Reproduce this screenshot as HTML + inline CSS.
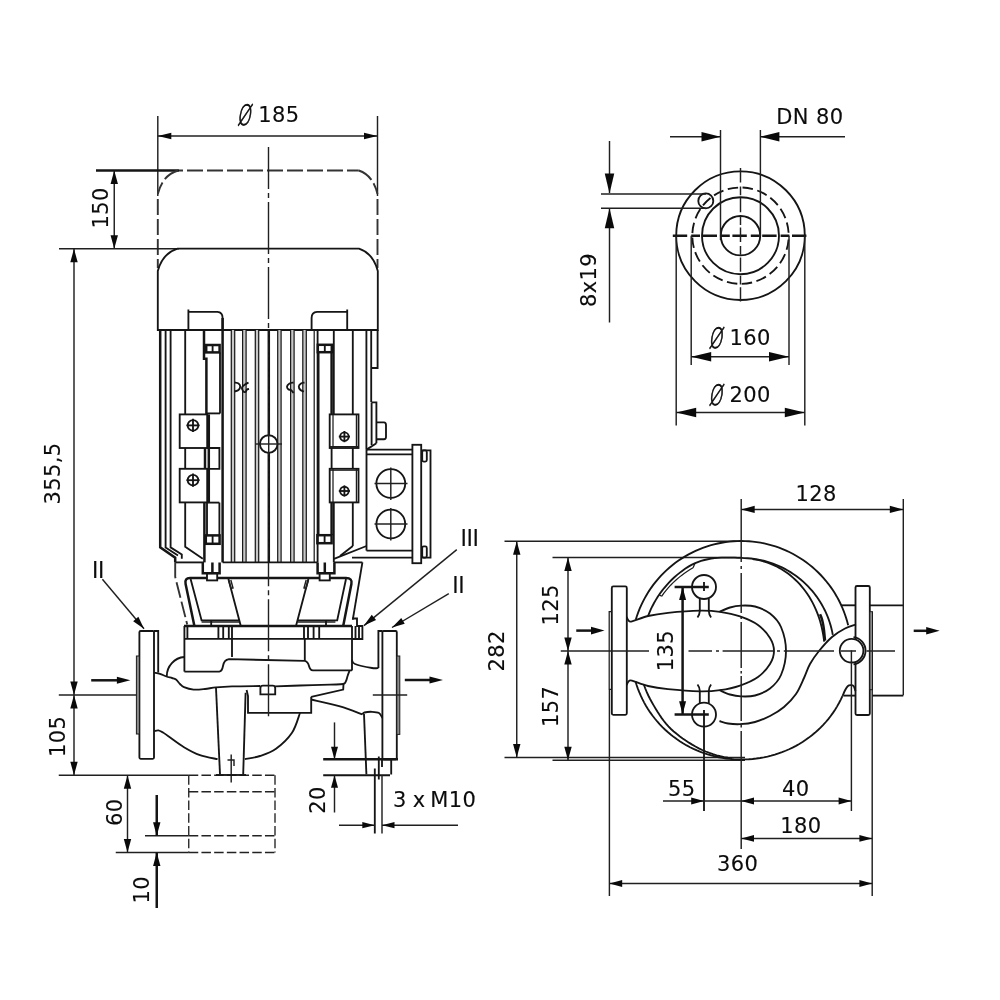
<!DOCTYPE html>
<html lang="en">
<head>
<meta charset="utf-8">
<title>Inline pump dimension drawing</title>
<style>
html,body{margin:0;padding:0;background:#fff;}
body{width:1000px;height:1000px;overflow:hidden;}
svg{display:block;will-change:transform;}
.o{stroke:#151515;stroke-width:1.85;fill:none;}
.k{stroke:#151515;stroke-width:2.5;fill:none;}
.t{stroke:#202020;stroke-width:1.45;fill:none;}
.h{stroke:#333;stroke-width:1.9;fill:none;stroke-dasharray:16 4;}
.c{stroke:#202020;stroke-width:1.4;fill:none;stroke-dasharray:52 4 5 4;}
.f{stroke:#222;stroke-width:1.35;fill:none;stroke-dasharray:9.5 3.2;}
.g{stroke:#c8c8c8;fill:none;}
.n{stroke:#1c1c1c;stroke-width:1.25;fill:none;}
.a{fill:#0a0a0a;stroke:none;}
.w{fill:#fff;}
.rf{fill:#8c8c8c;stroke:#1c1c1c;stroke-width:1;}
text{font-family:"DejaVu Sans","Liberation Sans",sans-serif;font-size:21px;letter-spacing:0.4px;fill:#0c0c0c;stroke:#0c0c0c;stroke-width:0.12px;}
.ro{font-family:"Liberation Sans","DejaVu Sans",sans-serif;font-size:23px;letter-spacing:-0.4px;stroke-width:0.1px;}
.dia{font-family:"DejaVu Sans Light","DejaVu Sans","Liberation Sans",sans-serif;font-size:28px;letter-spacing:0;stroke-width:0.9px;}
</style>
</head>
<body>
<svg width="1000" height="1000" viewBox="0 0 1000 1000" role="img" aria-label="Dimension drawing of an inline pump">
<rect x="0" y="0" width="1000" height="1000" fill="#ffffff"/>
<g id="front-view">
<line class="t" x1="157.8" y1="116" x2="157.8" y2="196"/>
<line class="t" x1="377.5" y1="116" x2="377.5" y2="196"/>
<line class="t" x1="157.8" y1="136" x2="377.5" y2="136"/>
<polygon class="a" points="157.8,136 171.3,132.75 171.3,139.25"/>
<polygon class="a" points="377.5,136 364,139.25 364,132.75"/>
<text class="dia" transform="translate(237.1 124.5) scale(0.62 1) skewX(-14)" x="0" y="0">Ø</text>
<text x="258.15" y="122" text-anchor="start">185</text>
<line class="k" x1="96" y1="170.5" x2="179" y2="170.5"/>
<path class="h" d="M179,170.5 L358.8,170.5" stroke-dashoffset="12"/>
<path class="h" d="M178,170.5 Q162.5,175.2 157.8,194" stroke-dasharray="7 3"/>
<path class="h" d="M358.8,170.5 Q373,175.2 377.5,194" stroke-dasharray="7 3"/>
<line class="h" x1="157.8" y1="199" x2="157.8" y2="268" stroke-dasharray="22 5 17 9 15 5"/>
<line class="h" x1="377.5" y1="199" x2="377.5" y2="268" stroke-dasharray="22 10 22 5"/>
<line class="t" x1="114.25" y1="170.5" x2="114.25" y2="248.8"/>
<polygon class="a" points="114.25,170.5 117.95,184 110.55,184"/>
<polygon class="a" points="114.25,248.8 110.55,235.3 117.95,235.3"/>
<text x="108.25" y="228.62" text-anchor="start" transform="rotate(-90 108.25 228.62)">150</text>
<line class="t" x1="59" y1="248.8" x2="179" y2="248.8"/>
<line class="t" x1="74" y1="248.8" x2="74" y2="775.2"/>
<polygon class="a" points="74,248.8 77.7,262.3 70.3,262.3"/>
<polygon class="a" points="74,694.9 70.3,681.4 77.7,681.4"/>
<polygon class="a" points="74,694.9 77.7,708.4 70.3,708.4"/>
<polygon class="a" points="74,775.2 70.3,761.7 77.7,761.7"/>
<line class="t" x1="58.8" y1="694.9" x2="136.8" y2="694.9"/>
<text x="60.3" y="504.5" text-anchor="start" transform="rotate(-90 60.3 504.5)">355,5</text>
<text x="65.5" y="757.1" text-anchor="start" transform="rotate(-90 65.5 757.1)">105</text>
<path class="o" d="M157.8,330 L157.8,271 Q162.5,253.3 177.5,248.6 L359,248.6 Q373.2,253.3 377.8,271 L377.8,330 Z"/>
<path class="o" d="M188.4,309.5 L188.4,330 M188.4,311.8 L217.4,311.8 Q222.6,312 222.6,318 L222.6,330"/>
<path class="o" d="M347.2,309.5 L347.2,330 M347.2,311.8 L317,311.8 Q311.6,312 311.6,318 L311.6,330"/>
<path class="k" d="M160.2,330 L160.2,547.4 L175.2,557.6 L175.2,562.4"/>
<path class="o" d="M165.6,330 L165.6,547.4 L178,555.5"/>
<path class="o" d="M170.6,330 L170.6,547.4 L181.8,554.5 L181.8,558.8"/>
<path class="o" d="M185.2,330 L185.2,414.4 M185.2,448 L185.2,468.8 M185.2,502.4 L185.2,546.8 L202.8,558.8"/>
<path class="k" d="M204,330 L204,358.8 L206.4,358.8 L206.4,414.4"/>
<rect class="k" x="206.2" y="345" width="13.4" height="7.4"/>
<line class="o" x1="212.6" y1="345" x2="212.6" y2="352.4"/>
<line class="o" x1="220" y1="352.4" x2="220" y2="413.6"/>
<line class="o" x1="206.4" y1="413.4" x2="220" y2="413.4"/>
<line class="k" x1="222.6" y1="318" x2="222.6" y2="562.4"/>
<line class="k" x1="204.4" y1="502.4" x2="204.4" y2="562.4"/>
<line class="o" x1="207" y1="502.4" x2="207" y2="535.4"/>
<line class="o" x1="219.4" y1="502.6" x2="219.4" y2="535.4"/>
<line class="o" x1="208" y1="502.6" x2="219.4" y2="502.6"/>
<rect class="k" x="205.8" y="535.4" width="13.8" height="8.4"/>
<line class="o" x1="212.6" y1="535.4" x2="212.6" y2="543.8"/>
<line class="g" x1="233" y1="330" x2="233" y2="562.4" stroke-width="3.4"/>
<line class="n" x1="231.3" y1="330" x2="231.3" y2="562.4"/>
<line class="n" x1="234.7" y1="330" x2="234.7" y2="562.4"/>
<line class="g" x1="244.35" y1="330" x2="244.35" y2="562.4" stroke-width="3.5"/>
<line class="n" x1="242.6" y1="330" x2="242.6" y2="562.4"/>
<line class="n" x1="246.1" y1="330" x2="246.1" y2="562.4"/>
<line class="g" x1="257" y1="330" x2="257" y2="562.4" stroke-width="3.4"/>
<line class="n" x1="255.3" y1="330" x2="255.3" y2="562.4"/>
<line class="n" x1="258.7" y1="330" x2="258.7" y2="562.4"/>
<line class="g" x1="279.4" y1="330" x2="279.4" y2="562.4" stroke-width="3.4"/>
<line class="n" x1="277.7" y1="330" x2="277.7" y2="562.4"/>
<line class="n" x1="281.1" y1="330" x2="281.1" y2="562.4"/>
<line class="g" x1="292.35" y1="330" x2="292.35" y2="562.4" stroke-width="3.5"/>
<line class="n" x1="290.6" y1="330" x2="290.6" y2="562.4"/>
<line class="n" x1="294.1" y1="330" x2="294.1" y2="562.4"/>
<line class="g" x1="304.55" y1="330" x2="304.55" y2="562.4" stroke-width="3.5"/>
<line class="n" x1="302.8" y1="330" x2="302.8" y2="562.4"/>
<line class="n" x1="306.3" y1="330" x2="306.3" y2="562.4"/>
<line class="k" x1="268.8" y1="330" x2="268.8" y2="435" stroke-width="3"/>
<line class="k" x1="268.8" y1="453" x2="268.8" y2="562.4" stroke-width="3"/>
<line class="n" x1="268.8" y1="330" x2="268.8" y2="562.4" stroke="#ddd" stroke-width="0.9" stroke-dasharray="9 3 2 3" stroke-dashoffset="4"/>
<line class="n" x1="314.2" y1="330" x2="314.2" y2="562.4"/>
<line class="o" x1="317.6" y1="330" x2="317.6" y2="562.4"/>
<rect class="k" x="317.8" y="344.8" width="14" height="7.4"/>
<line class="o" x1="324.8" y1="344.8" x2="324.8" y2="352.2"/>
<line class="o" x1="318.6" y1="352.2" x2="318.6" y2="535.2"/>
<line class="k" x1="331.6" y1="352.2" x2="331.6" y2="414.4"/>
<line class="k" x1="331.6" y1="502.4" x2="331.6" y2="535.2"/>
<line class="o" x1="333.8" y1="330" x2="333.8" y2="414.4"/>
<line class="o" x1="333.8" y1="502.4" x2="333.8" y2="562.4"/>
<rect class="k" x="317.4" y="535.2" width="14.2" height="8"/>
<line class="o" x1="324.6" y1="535.2" x2="324.6" y2="543.2"/>
<line class="o" x1="352.8" y1="330" x2="352.8" y2="414.4"/>
<line class="o" x1="352.8" y1="448" x2="352.8" y2="468.8"/>
<line class="o" x1="352.8" y1="502.4" x2="352.8" y2="546"/>
<line class="o" x1="366.4" y1="330" x2="366.4" y2="449.6"/>
<line class="o" x1="371.2" y1="330" x2="371.2" y2="402"/>
<path class="o" d="M377.6,330 L377.6,368 L371.2,368"/>
<path class="o" d="M234.6,382.5 C235.25,382.67 237.57,382.83 238.5,383.5 C239.43,384.17 240.2,385.42 240.2,386.5 C240.2,387.58 239.43,389.17 238.5,390 C237.57,390.83 235.25,391.25 234.6,391.5"/>
<path class="o" d="M248.5,382.5 C247.92,382.83 246.08,383.67 245,384.5 C243.92,385.33 242.33,386.42 242,387.5 C241.67,388.58 242.42,390.25 243,391 C243.58,391.75 244.83,392.25 245.5,392 C246.17,391.75 246.42,390 247,389.5 C247.58,389 248.67,389.08 249,389"/>
<path class="o" d="M293.6,382.5 C292.92,382.67 290.6,382.83 289.5,383.5 C288.4,384.17 287.17,385.5 287,386.5 C286.83,387.5 287.83,388.92 288.5,389.5 C289.17,390.08 290.15,389.42 291,390 C291.85,390.58 293.17,392.5 293.6,393"/>
<path class="o" d="M304.5,382.5 C303.92,382.67 301.95,382.83 301,383.5 C300.05,384.17 298.88,385.42 298.8,386.5 C298.72,387.58 299.63,389.17 300.5,390 C301.37,390.83 303.42,391.25 304,391.5"/>
<rect class="o" x="179.7" y="414.4" width="27.5" height="33.6"/>
<rect class="o" x="179.7" y="468.8" width="27.5" height="33.6"/>
<line class="k" x1="208.8" y1="414.4" x2="208.8" y2="502.4"/>
<path class="o" d="M207.2,448 L219.4,448 L219.4,468.8 L207.2,468.8"/>
<line class="k" x1="205" y1="448" x2="205" y2="468.8"/>
<rect class="o" x="329.7" y="414.4" width="28.8" height="33.6"/>
<rect class="o" x="329.7" y="468.8" width="28.8" height="33.6"/>
<line class="n" x1="333" y1="414.4" x2="333" y2="448"/>
<line class="n" x1="333" y1="468.8" x2="333" y2="502.4"/>
<line class="n" x1="356.4" y1="414.4" x2="356.4" y2="448"/>
<line class="n" x1="356.4" y1="468.8" x2="356.4" y2="502.4"/>
<line class="n" x1="329.7" y1="446.6" x2="358.5" y2="446.6"/>
<line class="n" x1="329.7" y1="470.2" x2="358.5" y2="470.2"/>
<line class="o" x1="331.6" y1="448" x2="331.6" y2="468.8"/>
<circle class="o" cx="193" cy="425.4" r="5.3"/>
<line class="o" x1="186.4" y1="425.4" x2="199.6" y2="425.4"/>
<line class="o" x1="193" y1="418.8" x2="193" y2="432"/>
<circle class="o" cx="193" cy="480.2" r="5.3"/>
<line class="o" x1="186.4" y1="480.2" x2="199.6" y2="480.2"/>
<line class="o" x1="193" y1="473.6" x2="193" y2="486.8"/>
<circle class="o" cx="344.4" cy="436.6" r="4.3"/>
<line class="o" x1="338.8" y1="436.6" x2="350" y2="436.6"/>
<line class="o" x1="344.4" y1="431" x2="344.4" y2="442.2"/>
<circle class="o" cx="344.4" cy="491" r="4.3"/>
<line class="o" x1="338.8" y1="491" x2="350" y2="491"/>
<line class="o" x1="344.4" y1="485.4" x2="344.4" y2="496.6"/>
<circle class="o w" cx="268.7" cy="444" r="8.8"/>
<line class="t" x1="255.5" y1="444" x2="282" y2="444"/>
<line class="t" x1="268.7" y1="433" x2="268.7" y2="455"/>
<path class="o" d="M371.6,402.4 L376.4,402.4 L376.4,443.2"/>
<line class="o" x1="371.6" y1="402.4" x2="371.6" y2="445"/>
<path class="o" d="M376.4,422.4 L384,422.4 Q386,422.4 386,425 L386,437 Q386,439.2 384,439.2 L376.4,439.2"/>
<path class="o" d="M376.4,443.2 L366.5,449.6"/>
<line class="o" x1="366.5" y1="449.6" x2="412.4" y2="449.6"/>
<line class="o" x1="366.5" y1="454.4" x2="412.4" y2="454.4"/>
<line class="o" x1="366.5" y1="449.6" x2="366.5" y2="550.6"/>
<rect class="o" x="412.4" y="444.8" width="8.8" height="118.4"/>
<path class="o" d="M421.2,450.4 L430.5,450.4 L430.5,557.6 L421.2,557.6"/>
<rect class="o" x="422.2" y="450.4" width="4.6" height="11.2" rx="1.5"/>
<rect class="o" x="422.2" y="546.4" width="4.6" height="11.2" rx="1.5"/>
<circle class="o" cx="390.8" cy="483.5" r="14.4"/>
<line class="t" x1="374.5" y1="483.5" x2="407.5" y2="483.5"/>
<line class="t" x1="390.8" y1="467.5" x2="390.8" y2="500"/>
<circle class="o" cx="390.8" cy="524" r="14.4"/>
<line class="t" x1="374.5" y1="524" x2="407.5" y2="524"/>
<line class="t" x1="390.8" y1="508" x2="390.8" y2="540.5"/>
<line class="o" x1="366.5" y1="550.6" x2="412.4" y2="550.6"/>
<line class="o" x1="352" y1="557.6" x2="412.4" y2="557.6"/>
<path class="o" d="M366.5,546 L334,558.8"/>
<path class="o" d="M352.8,546 L340,556"/>
<line class="o" x1="175.2" y1="562.4" x2="204" y2="562.4"/>
<line class="o" x1="222.6" y1="562.4" x2="317.6" y2="562.4"/>
<line class="o" x1="333.8" y1="562.4" x2="362.4" y2="562.4"/>
<path class="k" d="M202.8,562.4 L202.8,573.2 L219.6,573.2 L219.6,562.4 M212.4,562.4 L212.4,573.2"/>
<rect class="o" x="207" y="573.2" width="10.2" height="7.2"/>
<path class="k" d="M317.6,562.4 L317.6,573.2 L334.4,573.2 L334.4,562.4 M324.8,562.4 L324.8,573.2"/>
<rect class="o" x="319.6" y="573.2" width="10.2" height="7.2"/>
<path class="h" d="M175.2,562.4 L175.2,577 L187.2,624.4" stroke-dasharray="13 5"/>
<path class="o" d="M362.4,562.4 L352.8,619.6"/>
<path class="k" d="M207,578 L190,578 Q184.4,578 185.6,584 L194.4,626"/>
<path class="k" d="M217.2,578 L319.6,578"/>
<path class="k" d="M329.8,578 L346,578 Q352.6,578 351.4,584 L343.2,626"/>
<path class="o" d="M190.6,579 L201.6,620.4 L239.2,620.4 M228.4,579 L240.8,626"/>
<path class="o" d="M346,579 L337.2,620.4 L297.8,620.4 M308.4,579 L296,626"/>
<path class="t" d="M201.6,622 L239.2,622"/>
<path class="t" d="M297.8,622 L335.4,622"/>
<line class="o" x1="211.2" y1="620.4" x2="211.2" y2="626"/>
<line class="o" x1="326" y1="620.4" x2="326" y2="626"/>
<path class="t" d="M228.6,580 L231,588.5 L233,588 L230.8,580"/>
<path class="t" d="M308.4,580 L306,588.5 L304,588 L306.2,580"/>
<line class="k" x1="184" y1="626" x2="352" y2="626"/>
<line class="o" x1="184.8" y1="638.8" x2="352" y2="638.8"/>
<line class="o" x1="184.4" y1="626" x2="184.4" y2="671.6"/>
<line class="o" x1="187.4" y1="626" x2="187.4" y2="638.8"/>
<line class="o" x1="218.4" y1="626" x2="218.4" y2="638.8"/>
<line class="o" x1="223.2" y1="626" x2="223.2" y2="638.8"/>
<line class="o" x1="228.8" y1="626" x2="228.8" y2="638.8"/>
<line class="o" x1="232" y1="626" x2="232" y2="638.8"/>
<line class="o" x1="304" y1="626" x2="304" y2="638.8"/>
<line class="o" x1="308" y1="626" x2="308" y2="638.8"/>
<line class="o" x1="313.6" y1="626" x2="313.6" y2="638.8"/>
<line class="o" x1="319.2" y1="626" x2="319.2" y2="638.8"/>
<path class="o" d="M352,618.5 L357,618.5 L357,626 L362.4,626 L362.4,639 L352,639"/>
<line class="o" x1="352" y1="626" x2="352" y2="670.4"/>
<line class="o" x1="355.5" y1="626" x2="355.5" y2="639"/>
<line class="o" x1="359" y1="626" x2="359" y2="639"/>
<path class="o" d="M184.4,671.6 L219.2,671.6 Q222,671.4 223,666 Q224,660 229,659.2 L304.8,660.8 Q308,661.5 309,666 Q310,670.2 313,670.4 L352,670.4"/>
<line class="o" x1="232" y1="638.8" x2="232" y2="657"/>
<line class="o" x1="304.8" y1="638.8" x2="304.8" y2="660.8"/>
<rect class="o" x="139.4" y="631" width="14.6" height="127.8" rx="1.2"/>
<rect class="rf" x="136.4" y="656" width="3" height="78"/>
<path class="o" d="M154,631 L158.2,631 L158.2,672.6"/>
<rect class="o" x="382.4" y="631" width="14.4" height="128.2" rx="1.2"/>
<rect class="rf" x="396.8" y="656" width="3" height="78.4"/>
<path class="o" d="M382.4,631 L378.4,631 L378.4,668"/>
<path class="o" d="M154.4,672.8 C155.33,672.97 158,673.18 160,673.8 C162,674.42 164.4,675.8 166.4,676.5 C168.4,677.2 170.4,677.5 172,678 C173.6,678.5 174.67,678.5 176,679.5 C177.33,680.5 178.67,682.72 180,684 C181.33,685.28 181.73,686.27 184,687.2 C186.27,688.13 190.1,689.3 193.6,689.6 C197.1,689.9 201.27,689.37 205,689 C208.73,688.63 211.5,687.83 216,687.4 C220.5,686.97 224.67,686.63 232,686.4 C239.33,686.17 255.33,686.07 260,686"/>
<path class="o" d="M166.8,676 A19,19 0 0 1 184.4,657"/>
<path class="o" d="M154.4,731.2 C155.07,731.07 156.97,730.18 158.4,730.4 C159.83,730.62 161.4,731.57 163,732.5 C164.6,733.43 164.5,733.55 168,736 C171.5,738.45 178.67,744 184,747.2 C189.33,750.4 194.4,753.2 200,755.2 C205.6,757.2 214.67,758.53 217.6,759.2"/>
<path class="o" d="M244.8,759.2 C247.33,758.67 254.8,757.73 260,756 C265.2,754.27 270.67,752.67 276,748.8 C281.33,744.93 288,738.77 292,732.8 C296,726.83 298.67,716.3 300,713"/>
<path class="o" d="M260.4,694.4 L260.4,688 Q260.4,685.6 263,685.6 L272.6,685.6 Q275.2,685.6 275.2,688 L275.2,694.4 Z"/>
<path class="o" d="M246.6,690 L248,696 L248,712.8 L311.2,712.8 L311.2,696.8"/>
<path class="o" d="M275.2,686.4 C279.33,686.25 290.87,685.8 300,685.5 C309.13,685.2 322.8,684.85 330,684.6 C337.2,684.35 340.53,684.6 343.2,684 C345.87,683.4 345.27,682.33 346,681 C346.73,679.67 347,677.77 347.6,676 C348.2,674.23 349.27,671.33 349.6,670.4"/>
<path class="o" d="M311.2,696.8 L343.2,689.6 L343.5,684"/>
<path class="o" d="M311.2,699.5 C316,700.65 331.47,703.92 340,706.4 C348.53,708.88 358.67,713.07 362.4,714.4"/>
<path class="o" d="M352,660 C352.5,660.67 351.67,662.67 355,664 C358.33,665.33 368.1,667.33 372,668 C375.9,668.67 377.33,668 378.4,668"/>
<path class="o" d="M362.4,714.4 C362.75,714.08 362.9,712.93 364.5,712.5 C366.1,712.07 369.58,711.72 372,711.8 C374.42,711.88 377.27,711.97 379,713 C380.73,714.03 381.83,717.17 382.4,718"/>
<path class="o" d="M216,688 L220,774.4"/>
<path class="o" d="M245.6,692.8 L243.2,774.4"/>
<path class="o" d="M364,714 L366.4,774.4"/>
<path class="o" d="M382.4,759.2 L391.2,759.2 L391.2,774.4"/>
<line class="t" x1="231.2" y1="754.4" x2="231.2" y2="782.4"/>
<path class="t" d="M227.5,760 L234,760 L234,766"/>
<line class="c" x1="268.5" y1="147" x2="268.5" y2="330" stroke-dasharray="34 5.8 4 5.85" stroke-dashoffset="10"/>
<line class="c" x1="268.5" y1="562.4" x2="268.5" y2="717" stroke-dasharray="34 5.8 4 5.85" stroke-dashoffset="28.2"/>
<line class="t" x1="372.8" y1="694.9" x2="407.2" y2="694.9"/>
<line class="k" x1="91.2" y1="680.3" x2="120" y2="680.3"/>
<polygon class="a" points="130.4,680.3 116.9,683.8 116.9,676.8"/>
<line class="k" x1="404.8" y1="680" x2="432" y2="680"/>
<polygon class="a" points="443,680 429.5,683.5 429.5,676.5"/>
<text x="92" y="577.6" text-anchor="start" class="ro">II</text>
<line class="t" x1="102.4" y1="579.2" x2="144" y2="628.8"/>
<polygon class="a" points="144,628.8 133.17,621.18 138.38,616.81"/>
<text x="460.6" y="546.4" text-anchor="start" class="ro">III</text>
<line class="t" x1="456.8" y1="549.6" x2="364" y2="625.6"/>
<polygon class="a" points="364,625.6 371.75,614.86 376.06,620.12"/>
<text x="452.3" y="592.8" text-anchor="start" class="ro">II</text>
<line class="t" x1="448.8" y1="593.6" x2="392" y2="627.5"/>
<polygon class="a" points="392,627.5 401.25,618.03 404.74,623.87"/>
<line class="t" x1="58.75" y1="775.2" x2="188.75" y2="775.2"/>
<line class="f" x1="188.75" y1="775.2" x2="275" y2="775.2"/>
<line class="f" x1="188.75" y1="775.2" x2="188.75" y2="852.5"/>
<line class="f" x1="275" y1="775.2" x2="275" y2="852.5"/>
<line class="f" x1="188.75" y1="791.75" x2="275" y2="791.75"/>
<line class="f" x1="188.75" y1="835.75" x2="275" y2="835.75"/>
<line class="f" x1="188.75" y1="852.5" x2="275" y2="852.5"/>
<line class="o" x1="216" y1="775" x2="246" y2="775"/>
<line class="t" x1="127.5" y1="775.2" x2="127.5" y2="852.5"/>
<polygon class="a" points="127.5,775.2 131.2,788.7 123.8,788.7"/>
<polygon class="a" points="127.5,852.5 123.8,839 131.2,839"/>
<line class="t" x1="115.75" y1="852.5" x2="188.75" y2="852.5"/>
<text x="121.5" y="826" text-anchor="start" transform="rotate(-90 121.5 826)">60</text>
<line class="t" x1="145" y1="835.75" x2="188.75" y2="835.75"/>
<line class="k" x1="156.75" y1="795" x2="156.75" y2="835.75"/>
<line class="k" x1="156.75" y1="852.5" x2="156.75" y2="908"/>
<polygon class="a" points="156.75,835.75 153.05,822.25 160.45,822.25"/>
<polygon class="a" points="156.75,852.5 160.45,866 153.05,866"/>
<text x="149.5" y="903.45" text-anchor="start" transform="rotate(-90 149.5 903.45)">10</text>
<line class="k" x1="323.2" y1="759.2" x2="398" y2="759.2"/>
<line class="o" x1="323.2" y1="775.2" x2="390" y2="775.2"/>
<line class="t" x1="334.5" y1="722.4" x2="334.5" y2="759.2"/>
<line class="t" x1="334.5" y1="775.2" x2="334.5" y2="812.5"/>
<polygon class="a" points="334.5,759.2 331,746.7 338,746.7"/>
<polygon class="a" points="334.5,775.2 338,787.7 331,787.7"/>
<text x="325.3" y="813.75" text-anchor="start" transform="rotate(-90 325.3 813.75)">20</text>
<line class="o" x1="374.8" y1="768.5" x2="374.8" y2="833.5" stroke-width="1.8"/>
<line class="o" x1="378.8" y1="756.5" x2="378.8" y2="779.5" stroke-width="1.8"/>
<line class="t" x1="382" y1="775" x2="382" y2="833.5"/>
<line class="o" x1="382" y1="759" x2="382" y2="767"/>
<line class="t" x1="339" y1="825.2" x2="374.8" y2="825.2"/>
<line class="t" x1="382" y1="825.2" x2="458" y2="825.2"/>
<polygon class="a" points="374.8,825.2 362.3,828.3 362.3,822.1"/>
<polygon class="a" points="382,825.2 394.5,822.1 394.5,828.3"/>
<text x="393" y="807.4" text-anchor="start">3 <tspan dx="-1.2">x</tspan> <tspan dx="-2.2">M10</tspan></text>
</g>
<g id="flange-view">
<circle class="o" cx="740.5" cy="235.7" r="64.3"/>
<circle class="o" cx="740.5" cy="235.7" r="38.5"/>
<circle class="o" cx="740.5" cy="235.7" r="19.7"/>
<circle class="o" cx="740.5" cy="235.7" r="48.2" stroke-dasharray="10.5 4.5" stroke-dashoffset="11.15"/>
<circle class="o" cx="705.8" cy="200.9" r="7.5"/>
<line class="k" x1="672.8" y1="235.7" x2="808.8" y2="235.7" stroke-dasharray="14.4 4 8.8 2.6"/>
<line class="t" x1="740.5" y1="168" x2="740.5" y2="303.5" stroke-dasharray="14.4 4 8.8 2.6"/>
<line class="t" x1="720.5" y1="130" x2="720.5" y2="240"/>
<line class="t" x1="760.4" y1="130" x2="760.4" y2="236"/>
<line class="t" x1="670" y1="136.75" x2="720.5" y2="136.75"/>
<line class="t" x1="760.4" y1="136.75" x2="845" y2="136.75"/>
<polygon class="a" points="720.5,136.75 701.5,141.5 701.5,132"/>
<polygon class="a" points="760.4,136.75 779.4,132 779.4,141.5"/>
<text x="776.2" y="123.5" text-anchor="start">DN 80</text>
<line class="t" x1="609.5" y1="141" x2="609.5" y2="193"/>
<line class="t" x1="609.5" y1="208" x2="609.5" y2="322.5"/>
<polygon class="a" points="609.5,193.6 604.75,173.6 614.25,173.6"/>
<polygon class="a" points="609.5,208.2 614.25,228.2 604.75,228.2"/>
<line class="t" x1="601" y1="193.9" x2="706" y2="193.9"/>
<line class="t" x1="601" y1="208.2" x2="706" y2="208.2"/>
<text x="595.5" y="307" text-anchor="start" transform="rotate(-90 595.5 307)">8x19</text>
<line class="t" x1="691.2" y1="235.7" x2="691.2" y2="365"/>
<line class="t" x1="789" y1="235.7" x2="789" y2="365"/>
<line class="t" x1="691.2" y1="356.75" x2="789" y2="356.75"/>
<polygon class="a" points="691.2,356.75 711.2,352 711.2,361.5"/>
<polygon class="a" points="789,356.75 769,361.5 769,352"/>
<text class="dia" transform="translate(708.4 347.5) scale(0.62 1) skewX(-14)" x="0" y="0">Ø</text>
<text x="729.58" y="345" text-anchor="start">160</text>
<line class="t" x1="676.2" y1="235.7" x2="676.2" y2="425.5"/>
<line class="t" x1="804.8" y1="235.7" x2="804.8" y2="425.5"/>
<line class="t" x1="676.2" y1="412.5" x2="804.8" y2="412.5"/>
<polygon class="a" points="676.2,412.5 696.2,407.75 696.2,417.25"/>
<polygon class="a" points="804.8,412.5 784.8,417.25 784.8,407.75"/>
<text class="dia" transform="translate(708.4 404.5) scale(0.62 1) skewX(-14)" x="0" y="0">Ø</text>
<text x="729.58" y="402" text-anchor="start">200</text>
</g>
<g id="plan-view">
<line class="t" x1="504.5" y1="541.25" x2="741" y2="541.25"/>
<line class="t" x1="552.5" y1="557.5" x2="741" y2="557.5"/>
<line class="t" x1="504.5" y1="757.4" x2="745" y2="757.4"/>
<line class="t" x1="552.5" y1="760.2" x2="745" y2="760.2"/>
<line class="t" x1="516.75" y1="541.25" x2="516.75" y2="757.4"/>
<polygon class="a" points="516.75,541.25 520.45,554.75 513.05,554.75"/>
<polygon class="a" points="516.75,757.4 513.05,743.9 520.45,743.9"/>
<text x="504" y="671.5" text-anchor="start" transform="rotate(-90 504 671.5)">282</text>
<line class="t" x1="568" y1="557.5" x2="568" y2="760.2"/>
<polygon class="a" points="568,557.5 571.7,571 564.3,571"/>
<polygon class="a" points="568,651 564.3,637.5 571.7,637.5"/>
<polygon class="a" points="568,651 571.7,664.5 564.3,664.5"/>
<polygon class="a" points="568,760.2 564.3,746.7 571.7,746.7"/>
<text x="557.5" y="625.5" text-anchor="start" transform="rotate(-90 557.5 625.5)">125</text>
<text x="557.5" y="727" text-anchor="start" transform="rotate(-90 557.5 727)">157</text>
<rect class="o" x="611.8" y="586.4" width="15" height="128.4" rx="1.5"/>
<path class="n" d="M612,611.6 L609.2,611.6 L609.2,689.4 L612,689.4"/>
<rect class="o" x="855.5" y="586" width="14.3" height="129" rx="1.5"/>
<rect class="rf" x="869.8" y="611.7" width="2.7" height="78"/>
<line class="o" x1="841" y1="605.3" x2="855.6" y2="605.3"/>
<line class="o" x1="870" y1="605.3" x2="903.3" y2="605.3"/>
<line class="o" x1="843.5" y1="695.6" x2="855.6" y2="695.6"/>
<line class="o" x1="872" y1="695.6" x2="903.3" y2="695.6"/>
<path class="o" d="M635.73,619.76 L636.91,616.02 L638.22,612.33 L639.67,608.68 L641.24,605.09 L642.94,601.56 L644.76,598.09 L646.71,594.69 L648.77,591.36 L650.96,588.1 L653.25,584.93 L655.66,581.84 L658.18,578.83 L660.81,575.92 L663.53,573.11 L666.36,570.39 L669.28,567.77 L672.29,565.26 L675.38,562.86 L678.57,560.57 L681.83,558.4 L685.16,556.34 L688.57,554.41 L692.05,552.59 L695.58,550.9 L699.18,549.34 L702.83,547.91 L706.52,546.61 L710.27,545.44 L714.05,544.4 L717.86,543.5 L721.7,542.74 L725.57,542.12 L729.46,541.63 L733.37,541.28 L737.28,541.07 L741.2,541 L745.06,541.07 L748.92,541.27 L752.77,541.61 L756.61,542.08 L760.43,542.69 L764.22,543.44 L767.98,544.31 L771.71,545.32 L775.41,546.45 L779.06,547.72 L782.66,549.11 L786.22,550.63 L789.72,552.28 L793.15,554.04 L796.53,555.93 L799.83,557.93 L803.07,560.05 L806.22,562.28 L809.3,564.62 L812.29,567.06 L815.2,569.61 L818.01,572.26 L820.73,575.01 L823.35,577.85 L825.87,580.78 L828.28,583.8 L830.59,586.9 L832.79,590.08 L834.87,593.33 L836.84,596.66 L838.69,600.05 L840.42,603.51 L842.03,607.02 L843.51,610.59 L844.87,614.21 L846.09,617.87 L847.19,621.58 L848.16,625.32"/>
<path class="o" d="M842.42,696.07 L840.78,699.57 L839.01,703.01 L837.11,706.37 L835.08,709.67 L832.94,712.88 L830.68,716.01 L828.3,719.05 L825.82,722 L823.23,724.86 L820.54,727.62 L817.75,730.27 L814.88,732.83 L811.91,735.27 L808.87,737.61 L805.74,739.84 L802.54,741.95 L799.28,743.94 L795.95,745.82 L792.56,747.59 L789.11,749.23 L785.61,750.75 L782.07,752.15 L778.48,753.43 L774.86,754.59 L771.2,755.62 L767.51,756.54 L763.8,757.33 L760.07,757.99 L756.31,758.54 L752.55,758.96 L748.77,759.26 L744.99,759.44 L741.2,759.5 L737.41,759.44 L733.63,759.25 L729.86,758.93 L726.09,758.49 L722.35,757.93 L718.62,757.23 L714.92,756.41 L711.24,755.47 L707.6,754.4 L704,753.21 L700.44,751.9 L696.92,750.46 L693.45,748.9 L690.04,747.23 L686.68,745.43 L683.39,743.52 L680.16,741.5 L677,739.36 L673.92,737.11 L670.92,734.76 L668,732.3 L665.16,729.74 L662.42,727.08 L659.77,724.32 L657.22,721.47 L654.77,718.53 L652.43,715.5 L650.19,712.39 L648.07,709.2 L646.06,705.93 L644.17,702.59 L642.4,699.19 L640.75,695.72 L639.24,692.2 L637.85,688.62 L636.59,684.99 L635.46,681.32"/>
<path class="o" d="M648,616.15 L649.33,612.79 L650.78,609.47 L652.35,606.22 L654.04,603.01 L655.84,599.88 L657.75,596.81 L659.78,593.81 L661.91,590.89 L664.15,588.05 L666.49,585.29 L668.93,582.61 L671.46,580.03 L674.09,577.54 L676.8,575.15 L679.6,572.86 L682.48,570.67 L685.44,568.59 L688.47,566.62 L691.48,564.89 L694.6,563.37 L697.82,562.05 L701.1,560.93 L704.43,560 L707.8,559.25 L711.19,558.65 L714.59,558.2 L717.98,557.89 L721.37,557.69 L724.73,557.58 L728.07,557.56 L731.38,557.6 L734.68,557.69 L737.95,557.81 L741.2,557.94 L744.45,558.06 L747.69,558.23 L750.92,558.51 L754.14,558.91 L757.35,559.41 L760.54,560.03 L763.7,560.76 L766.83,561.6 L769.94,562.55 L773.01,563.61 L776.04,564.77 L779.03,566.04 L781.97,567.41 L784.86,568.89 L787.7,570.46 L790.48,572.13 L793.2,573.9 L795.86,575.76 L798.46,577.71 L800.98,579.76 L803.43,581.89 L805.8,584.1 L808.1,586.4 L810.31,588.77 L812.44,591.22 L814.49,593.74 L816.44,596.34 L818.3,599 L820.07,601.72 L821.74,604.5 L823.31,607.34 L824.79,610.23 L826.16,613.17 L827.43,616.16 L828.59,619.19 L829.65,622.26 L830.6,625.37 L831.44,628.5 L832.17,631.66 L832.79,634.85"/>
<path class="n" d="M661.59,596.29 L663.68,593.38 L665.89,590.55 L668.2,587.82 L670.63,585.19 L673.15,582.65 L675.76,580.21 L678.47,577.87 L681.25,575.63 L684.11,573.49 L687.04,571.46 L690.04,569.52 L693.1,567.69"/>
<line class="n" x1="659.2" y1="594.64" x2="661.59" y2="596.29"/>
<line class="n" x1="693.1" y1="567.69" x2="694.77" y2="563.68"/>
<path class="o" d="M752.49,559.09 L755.7,559.56 L758.9,560.18 L762.06,560.94 L765.18,561.85 L768.25,562.89 L771.27,564.06 L774.23,565.36 L777.13,566.78 L779.96,568.32 L782.72,569.98 L785.4,571.74 L788,573.6 L790.52,575.55 L792.95,577.6 L795.29,579.74 L797.54,581.95 L799.7,584.24 L801.76,586.59 L803.73,589.01 L805.61,591.49 L807.39,594.02 L809.07,596.6 L810.66,599.23 L812.16,601.89 L813.57,604.59 L814.88,607.33 L816.1,610.09 L817.23,612.87 L818.28,615.68 L819.25,618.5 L820.13,621.35 L820.93,624.2 L821.65,627.07 L822.29,629.95 L822.87,632.84 L823.37,635.73 L823.8,638.64 L824.16,641.55"/>
<path class="k" d="M820.05,614.23 L821.21,617.04 L822.13,619.94 L822.85,622.89 L823.4,625.87 L823.83,628.86 L824.17,631.85 L824.46,634.82 L824.74,637.77 L825.07,640.7"/>
<path class="o" d="M731.83,758.09 L727.99,757.66 L724.18,757.05 L720.4,756.26 L716.67,755.3 L712.98,754.19 L709.35,752.93 L705.78,751.52 L702.27,749.98 L698.83,748.31 L695.45,746.53 L692.15,744.64 L688.91,742.65 L685.74,740.57 L682.64,738.4 L679.6,736.15 L676.63,733.83 L673.71,731.43 L670.98,728.99 L668.41,726.38 L665.98,723.64 L663.69,720.79 L661.53,717.85 L659.48,714.85 L657.52,711.8 L655.64,708.71 L653.8,705.61 L652,702.5 L650.09,699.04 L648.31,695.5 L646.67,691.91 L645.17,688.25 L643.81,684.53"/>
<path class="o" d="M626.7,617 C627,617.58 627.62,619.78 628.5,620.5 C629.38,621.22 628.75,622.05 632,621.3 C635.25,620.55 642,617.42 648,616 C654,614.58 659.33,613.7 668,612.8 C676.67,611.9 691.33,610.77 700,610.6 C708.67,610.43 713.33,610.83 720,611.8 C726.67,612.77 733.67,614.2 740,616.4 C746.33,618.6 753,621.4 758,625 C763,628.6 767.33,633.67 770,638 C772.67,642.33 774,646.67 774,651 C774,655.33 772.67,659.67 770,664 C767.33,668.33 763,673.4 758,677 C753,680.6 746.33,683.4 740,685.6 C733.67,687.8 726.67,689.23 720,690.2 C713.33,691.17 708.67,691.57 700,691.4 C691.33,691.23 676.67,690.1 668,689.2 C659.33,688.3 654,687.42 648,686 C642,684.58 635.25,681.45 632,680.7 C628.75,679.95 629.38,680.78 628.5,681.5 C627.62,682.22 627,684.42 626.7,685"/>
<path class="o" d="M719.5,611.8 C721.25,611.08 726.42,608.53 730,607.5 C733.58,606.47 736.83,605.77 741,605.6 C745.17,605.43 750.17,605.18 755,606.5 C759.83,607.82 765.67,610.08 770,613.5 C774.33,616.92 778.33,620.75 781,627 C783.67,633.25 786,643 786,651 C786,659 783.67,668.75 781,675 C778.33,681.25 774.33,685.08 770,688.5 C765.67,691.92 759.83,694.18 755,695.5 C750.17,696.82 745.17,696.57 741,696.4 C736.83,696.23 733.58,695.53 730,694.5 C726.42,693.47 721.25,690.92 719.5,690.2"/>
<path class="o" d="M856,624.5 C854.17,625.17 849,626.42 845,628.5 C841,630.58 836.33,633.25 832,637 C827.67,640.75 822.67,646.5 819,651 C815.33,655.5 812.5,659.5 810,664 C807.5,668.5 806.33,673 804,678 C801.67,683 799.33,689.17 796,694 C792.67,698.83 788.33,703.33 784,707 C779.67,710.67 774.83,713.5 770,716 C765.17,718.5 760,720.63 755,722 C750,723.37 744.5,723.95 740,724.2 C735.5,724.45 731.42,724.03 728,723.5 C724.58,722.97 720.92,721.42 719.5,721"/>
<path class="o" d="M842.5,696 C842.95,695 844.33,691.63 845.2,690 C846.07,688.37 846.82,687 847.7,686.2 C848.58,685.4 849.52,685.23 850.5,685.2 C851.48,685.17 852.77,685.03 853.6,686 C854.43,686.97 855.18,690.17 855.5,691"/>
<circle class="o" cx="704" cy="587" r="12"/>
<circle class="o" cx="704" cy="714.6" r="12"/>
<circle class="o w" cx="851.6" cy="650.7" r="11.8"/>
<path class="o" d="M853.5,637.1 A13.7,13.7 0 0 1 853.5,664.3"/>
<path class="o" d="M699.8,598.5 L699.8,611 Q699.6,615 697.5,617.5"/>
<path class="o" d="M708.8,598.5 L708.8,611 Q709,615 711.1,617.5"/>
<path class="o" d="M699.8,703 L699.8,691 Q699.6,687 697.5,684.5"/>
<path class="o" d="M708.8,703 L708.8,691 Q709,687 711.1,684.5"/>
<line class="t" x1="560.75" y1="651" x2="649" y2="651"/>
<line class="t" x1="688.5" y1="651" x2="895" y2="651" stroke-dasharray="23.5 4 3 3.6 50.4 4 3 3.8 50.2 7 15 10.5 28.5"/>
<line class="t" x1="741.2" y1="499" x2="741.2" y2="849" stroke-dasharray="63 4 3 4 40 3.5 2.5 3 46 3 2.5 2.5 45 3.5 3 3.5 118"/>
<line class="t" x1="903.3" y1="499" x2="903.3" y2="695.3"/>
<line class="t" x1="741.2" y1="509.4" x2="903.3" y2="509.4"/>
<polygon class="a" points="741.2,509.4 754.7,505.7 754.7,513.1"/>
<polygon class="a" points="903.3,509.4 889.8,513.1 889.8,505.7"/>
<text x="795.4" y="501.2" text-anchor="start">128</text>
<line class="k" x1="576.25" y1="630.6" x2="594" y2="630.6"/>
<polygon class="a" points="604.5,630.6 591,634.4 591,626.8"/>
<line class="k" x1="913.7" y1="630.8" x2="929" y2="630.8"/>
<polygon class="a" points="939.7,630.8 926.2,634.6 926.2,627"/>
<line class="k" x1="682.6" y1="587" x2="682.6" y2="714"/>
<polygon class="a" points="682.6,587 686.1,600 679.1,600"/>
<polygon class="a" points="682.6,714.3 679.1,701.3 686.1,701.3"/>
<line class="k" x1="674.6" y1="587" x2="708.8" y2="587"/>
<line class="k" x1="674.6" y1="714.6" x2="708.8" y2="714.6"/>
<line class="o" x1="704" y1="582" x2="704" y2="591"/>
<line class="o" x1="704" y1="710" x2="704" y2="811"/>
<text x="673" y="671.22" text-anchor="start" transform="rotate(-90 673 671.22)">135</text>
<line class="t" x1="851.4" y1="650.4" x2="851.4" y2="811"/>
<line class="t" x1="609.4" y1="690" x2="609.4" y2="896"/>
<line class="t" x1="872.2" y1="690" x2="872.2" y2="896"/>
<line class="t" x1="663" y1="801" x2="851.4" y2="801"/>
<polygon class="a" points="704,801 691.2,804.4 691.2,797.6"/>
<polygon class="a" points="741.2,801 754,797.6 754,804.4"/>
<polygon class="a" points="851.4,801 838.6,804.4 838.6,797.6"/>
<text x="668" y="796" text-anchor="start">55</text>
<text x="782" y="796" text-anchor="start">40</text>
<line class="t" x1="741.2" y1="838.4" x2="872.2" y2="838.4"/>
<polygon class="a" points="741.2,838.4 754,835 754,841.8"/>
<polygon class="a" points="872.2,838.4 859.4,841.8 859.4,835"/>
<text x="780.3" y="833" text-anchor="start">180</text>
<line class="t" x1="609.4" y1="883.5" x2="872.2" y2="883.5"/>
<polygon class="a" points="609.4,883.5 622.2,880.1 622.2,886.9"/>
<polygon class="a" points="872.2,883.5 859.4,886.9 859.4,880.1"/>
<text x="717" y="871.4" text-anchor="start">360</text>
</g>
</svg>
</body>
</html>
